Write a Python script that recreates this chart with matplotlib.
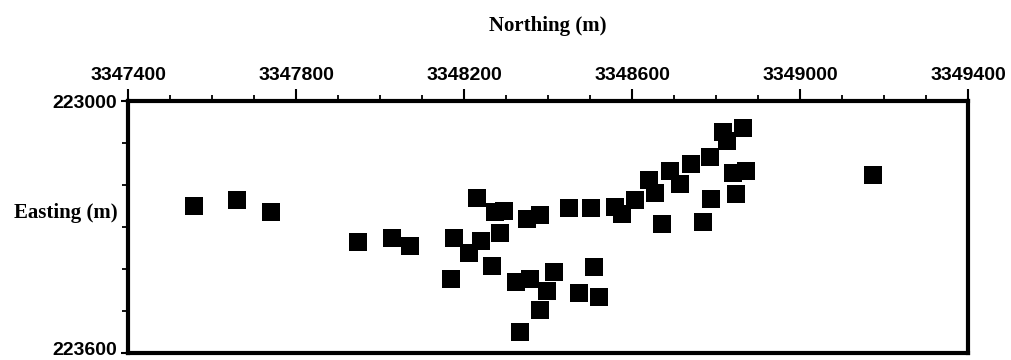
import matplotlib
matplotlib.use("Agg")
import matplotlib.pyplot as plt
import matplotlib.transforms as mtransforms
from matplotlib.ticker import MultipleLocator, FixedLocator

# sample locations (UTM metres)
northing = [
    3347558, 3347660, 3347740, 3347948, 3348029, 3348071,
    3348232, 3348273, 3348295, 3348351, 3348380, 3348451,
    3348503, 3348559, 3348576, 3348608, 3348640, 3348654,
    3348690, 3348715, 3348741, 3348786, 3348816, 3348827,
    3348865, 3348840, 3348871, 3348847, 3348789, 3348671,
    3348769, 3349174, 3348176, 3348240, 3348286, 3348213,
    3348267, 3348169, 3348324, 3348358, 3348414, 3348398,
    3348382, 3348333, 3348473, 3348510, 3348521,
]
easting = [
    223250, 223235, 223265, 223336, 223327, 223345,
    223230, 223264, 223261, 223281, 223271, 223254,
    223255, 223252, 223270, 223236, 223189, 223218,
    223166, 223198, 223149, 223134, 223073, 223095,
    223064, 223172, 223167, 223221, 223233, 223294,
    223288, 223175, 223325, 223333, 223314, 223363,
    223392, 223424, 223432, 223423, 223406, 223452,
    223497, 223551, 223456, 223395, 223467,
]

x_ticks = [3347400, 3347800, 3348200, 3348600, 3349000, 3349400]
y_ticks = [223000, 223600]

fig = plt.figure(figsize=(10.11, 3.6), dpi=100)
ax = fig.add_axes([0.1266, 0.0194, 0.8309, 0.7000])

ax.scatter(northing, easting, marker="s", s=150, color="black",
           linewidths=0, zorder=3)

ax.set_xlim(x_ticks[0], x_ticks[-1])
ax.set_ylim(y_ticks[-1], y_ticks[0])   # easting increases downward

ax.xaxis.tick_top()
ax.xaxis.set_label_position("top")
ax.xaxis.set_major_locator(FixedLocator(x_ticks))
ax.xaxis.set_minor_locator(MultipleLocator(100))
ax.yaxis.set_major_locator(FixedLocator(y_ticks))
ax.yaxis.set_minor_locator(MultipleLocator(100))
ax.set_xticklabels([str(v) for v in x_ticks])
ax.set_yticklabels([str(v) for v in y_ticks])

ax.tick_params(axis="x", which="major", direction="out", length=9, width=1.5, pad=3)
ax.tick_params(axis="x", which="minor", direction="out", length=4, width=1.3)
ax.tick_params(axis="y", which="major", direction="out", length=5, width=1.5, pad=3)
ax.tick_params(axis="y", which="minor", direction="out", length=4, width=1.3)

for lab in ax.get_xticklabels() + ax.get_yticklabels():
    lab.set_fontfamily("Liberation Sans")
    lab.set_fontweight("bold")
    lab.set_fontsize(14)

# lift the bottom y label a little so it stays inside the figure
bottom_lab = ax.yaxis.get_major_ticks()[-1].label1
bottom_lab.set_transform(bottom_lab.get_transform() +
                         mtransforms.ScaledTranslation(0, 3 / 72, fig.dpi_scale_trans))

for sp in ax.spines.values():
    sp.set_linewidth(3)

label_font = dict(family="Liberation Serif", weight="bold", size=15)
ax.set_xlabel("Northing (m)", labelpad=26, **label_font)
ax.set_ylabel("Easting (m)", rotation=0, ha="right", va="center", **label_font)
ax.yaxis.set_label_coords(-0.012, 0.556)

fig.savefig("out.png", dpi=100)
